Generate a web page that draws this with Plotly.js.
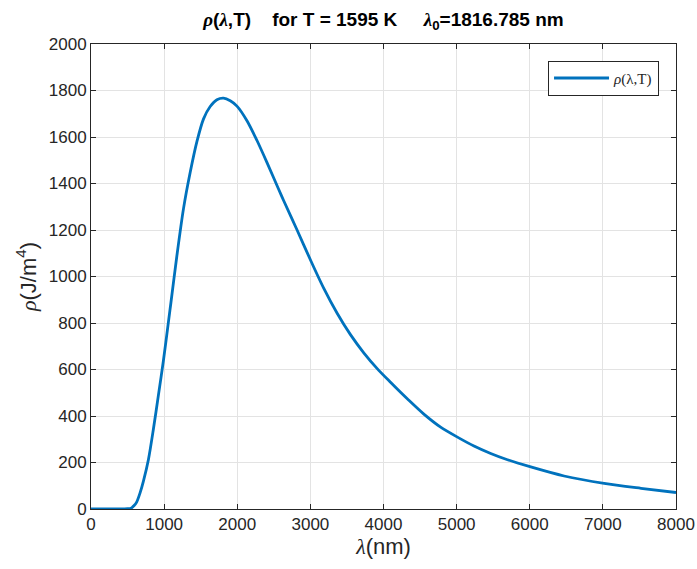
<!DOCTYPE html>
<html>
<head>
<meta charset="utf-8">
<script src="https://cdn.plot.ly/plotly-3.0.1.min.js"></script>
<style>html,body{margin:0;padding:0;background:#fff;}#chart{width:697px;height:569px;}</style>
</head>
<body>
<div id="chart"></div>
<script>
// wavelength (nm)
const lambdaNm = [0, 200, 400, 500, 534, 560, 590, 626, 670, 717, 785, 854, 922, 991, 1059, 1091, 1174, 1265, 1356, 1448, 1539, 1630, 1722, 1812, 1904, 1996, 2133, 2270, 2407, 2566, 2634, 2818, 3000, 3182, 3366, 3548, 3730, 3914, 4096, 4233, 4325, 4552, 4781, 5023, 5237, 5466, 5695, 6014, 6470, 7018, 7521, 8000];
// spectral energy density rho (J/m^4)
const rhoValues = [0, 0, 0, 1, 2, 6, 15, 31, 68, 120, 212, 345, 490, 640, 805, 883, 1088, 1292, 1447, 1580, 1678, 1731, 1760, 1767, 1756, 1733, 1670, 1585, 1490, 1375, 1327, 1200, 1072, 950, 842, 750, 672, 604, 545, 502, 474, 408, 352, 307, 271, 239, 212, 181, 142, 110, 89, 71];
const xTicks = [0, 1000, 2000, 3000, 4000, 5000, 6000, 7000, 8000];
const yTicks = [0, 200, 400, 600, 800, 1000, 1200, 1400, 1600, 1800, 2000];

const serif = "'Liberation Serif', 'DejaVu Serif', serif";
const sans = "'Liberation Sans', Arial, Helvetica, sans-serif";
const axisColor = '#262626';
const gk = (s) => '<i style="font-family:\'Liberation Serif\'">' + s + '</i>';

const trace = {
  x: lambdaNm,
  y: rhoValues,
  type: 'scatter',
  mode: 'lines',
  name: gk('ρ') + '(λ,T)',
  line: {color: '#0072BD', width: 2.8, shape: 'spline', smoothing: 0.8}
};

const axisCommon = {
  showline: true, linecolor: axisColor, linewidth: 1, mirror: 'allticks',
  ticks: 'inside', ticklen: 5, tickcolor: axisColor, tickwidth: 1,
  showgrid: true, gridcolor: '#e3e3e3', gridwidth: 1,
  zeroline: false,
  tickfont: {family: sans, size: 17, color: axisColor}
};

const layout = {
  width: 697, height: 569,
  margin: {l: 91, r: 21, t: 44, b: 60},
  paper_bgcolor: '#ffffff', plot_bgcolor: '#ffffff',
  showlegend: true,
  title: {
    text: '<b>' + gk('ρ') + '(' + gk('λ') + ',T)    for T = 1595 K     ' + gk('λ') + '<sub>0</sub>=1816.785 nm</b>',
    font: {family: sans, size: 19, color: '#000'},
    xref: 'paper', x: 0.5, xanchor: 'center', y: 0.966, yanchor: 'middle'
  },
  xaxis: Object.assign({}, axisCommon, {
    range: [0, 8000], tickvals: xTicks, ticktext: xTicks.map(String),
    title: {text: gk('λ') + '(nm)', font: {family: sans, size: 22, color: axisColor}, standoff: 4}
  }),
  yaxis: Object.assign({}, axisCommon, {
    range: [0, 2000], tickvals: yTicks, ticktext: yTicks.map(String),
    title: {text: gk('ρ') + '(J/m<sup>4</sup>)', font: {family: sans, size: 22, color: axisColor}, standoff: 6}
  }),
  legend: {
    x: 0.971, y: 0.964, xanchor: 'right', yanchor: 'top',
    bgcolor: '#ffffff', bordercolor: axisColor, borderwidth: 1,
    font: {family: serif, size: 15, color: axisColor},
    itemwidth: 55
  }
};

Plotly.newPlot('chart', [trace], layout, {displayModeBar: false, staticPlot: true});
</script>
</body>
</html>
